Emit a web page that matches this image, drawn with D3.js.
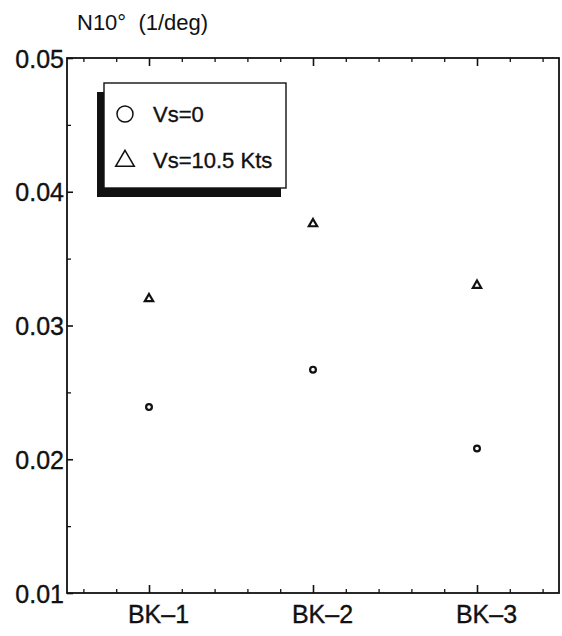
<!DOCTYPE html>
<html>
<head>
<meta charset="utf-8">
<script src="https://cdn.jsdelivr.net/npm/d3@7"></script>
<style>
  html, body { margin: 0; padding: 0; background: #fff; }
  svg { display: block; font-family: "Liberation Sans", Arial, Helvetica, sans-serif; }
  .heavy { stroke: #111; stroke-width: 0.35px; }
</style>
</head>
<body>
<svg id="chart" width="562" height="636"></svg>
<script>
// Hull models on the x axis, one point per series
const categories = ["BK\u20131", "BK\u20132", "BK\u20133"];
const seriesNames = ["Vs=0", "Vs=10.5 Kts"];
const vs0 = [0.0239, 0.0267, 0.0208];
const vs105 = [0.0320, 0.0376, 0.0330];
const yTickValues = [0.01, 0.02, 0.03, 0.04, 0.05];
const yTickLabels = ["0.01", "0.02", "0.03", "0.04", "0.05"];
const yLabel = "N10\u00B0  (1/deg)";

const svg = d3.select("#chart");
const plotLeft = 67, plotRight = 559, plotTop = 58, plotBottom = 593;

const x = d3.scaleLinear().domain([0.5, 3.5]).range([plotLeft, plotRight]);
const y = d3.scaleLinear().domain([0.01, 0.05]).range([plotBottom, plotTop]);

const ink = "#111";

// frame
svg.append("rect")
  .attr("x", plotLeft).attr("y", plotTop)
  .attr("width", plotRight - plotLeft).attr("height", plotBottom - plotTop)
  .attr("fill", "none").attr("stroke", ink).attr("stroke-width", 1.8);

// x ticks: minor every 0.2, major at each category (bottom and top edges)
const xMinor = d3.range(3, 18).map(i => +(i * 0.2).toFixed(2)).filter(v => Math.abs(v - Math.round(v)) > 1e-6);
const xMajor = [1, 2, 3];

const bottomAxis = d3.axisBottom(x).tickValues(xMajor).tickSizeInner(-8).tickSizeOuter(0)
  .tickFormat((d, i) => categories[i]);
const gb = svg.append("g").attr("transform", `translate(0,${plotBottom})`).call(bottomAxis);
gb.select(".domain").remove();
gb.selectAll("line").attr("stroke", ink).attr("stroke-width", 1.6);
// category names sit slightly right of their tick
gb.selectAll("text").attr("class", "heavy").attr("fill", ink).attr("font-size", 25)
  .attr("x", 9).attr("y", 30).attr("dy", null);

const bottomMinor = d3.axisBottom(x).tickValues(xMinor).tickSizeInner(-4).tickSizeOuter(0).tickFormat("");
const gbm = svg.append("g").attr("transform", `translate(0,${plotBottom})`).call(bottomMinor);
gbm.select(".domain").remove();
gbm.selectAll("line").attr("stroke", ink).attr("stroke-width", 1.3);

const topAxis = d3.axisTop(x).tickValues(xMajor).tickSizeInner(-8).tickSizeOuter(0).tickFormat("");
const gt = svg.append("g").attr("transform", `translate(0,${plotTop})`).call(topAxis);
gt.select(".domain").remove();
gt.selectAll("line").attr("stroke", ink).attr("stroke-width", 1.6);

const topMinor = d3.axisTop(x).tickValues(xMinor).tickSizeInner(-4).tickSizeOuter(0).tickFormat("");
const gtm = svg.append("g").attr("transform", `translate(0,${plotTop})`).call(topMinor);
gtm.select(".domain").remove();
gtm.selectAll("line").attr("stroke", ink).attr("stroke-width", 1.3);

// y ticks
const leftAxis = d3.axisLeft(y).tickValues(yTickValues).tickSizeInner(-6).tickSizeOuter(0)
  .tickFormat((d, i) => yTickLabels[i]);
const gl = svg.append("g").attr("transform", `translate(${plotLeft},0)`).call(leftAxis);
gl.select(".domain").remove();
gl.selectAll("line").attr("stroke", ink).attr("stroke-width", 1.6);
gl.selectAll("text").attr("class", "heavy").attr("fill", ink).attr("font-size", 25)
  .attr("x", -3).attr("dy", "0.36em");

const yMinor = [0.015, 0.025, 0.035, 0.045];
const leftMinor = d3.axisLeft(y).tickValues(yMinor).tickSizeInner(-4).tickSizeOuter(0).tickFormat("");
const glm = svg.append("g").attr("transform", `translate(${plotLeft},0)`).call(leftMinor);
glm.select(".domain").remove();
glm.selectAll("line").attr("stroke", ink).attr("stroke-width", 1.3);

// y title
svg.append("text")
  .attr("x", 77).attr("y", 30)
  .attr("font-size", 22).attr("fill", ink)
  .style("white-space", "pre")
  .text(yLabel);

// markers
const tri = d3.symbol().type(d3.symbolTriangle);
svg.append("g").selectAll("circle")
  .data(vs0).join("circle")
  .attr("cx", (d, i) => x(i + 1)).attr("cy", d => y(d))
  .attr("r", 2.9).attr("fill", "#fff").attr("stroke", ink).attr("stroke-width", 2.2);

svg.append("g").selectAll("path")
  .data(vs105).join("path")
  .attr("transform", (d, i) => `translate(${x(i + 1)},${y(d)})`)
  .attr("d", tri.size(30)())
  .attr("fill", "#fff").attr("stroke", ink).attr("stroke-width", 2.2).attr("stroke-linejoin", "miter");

// legend with drop shadow
const lg = svg.append("g");
lg.append("rect").attr("x", 97).attr("y", 92).attr("width", 184).attr("height", 105).attr("fill", ink);
lg.append("rect").attr("x", 104).attr("y", 83).attr("width", 182).attr("height", 105)
  .attr("fill", "#fff").attr("stroke", ink).attr("stroke-width", 1.4);

lg.append("circle").attr("cx", 125).attr("cy", 114).attr("r", 8)
  .attr("fill", "none").attr("stroke", ink).attr("stroke-width", 1.5);
lg.append("path").attr("transform", "translate(125,161)")
  .attr("d", d3.symbol().type(d3.symbolTriangle).size(150)())
  .attr("fill", "none").attr("stroke", ink).attr("stroke-width", 1.5);

lg.selectAll("text.leg").data(seriesNames).join("text")
  .attr("class", "leg heavy")
  .attr("x", 153).attr("y", (d, i) => 122 + i * 46)
  .attr("font-size", 22).attr("fill", ink)
  .text(d => d);
</script>
</body>
</html>
